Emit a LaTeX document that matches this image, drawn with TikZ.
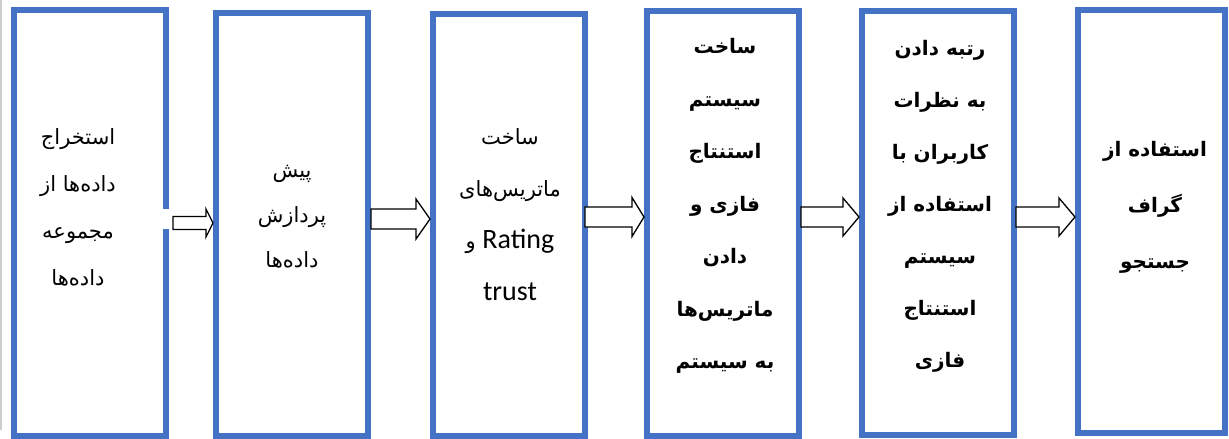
\documentclass[tikz,border=0pt]{standalone}
\usepackage{fontspec}
\usetikzlibrary{calc}
\TeXXeTstate=1
\newfontfamily\fa[Script=Arabic]{DejaVu Sans}
\newfontfamily\lat{Carlito}
\definecolor{boxblue}{HTML}{4472C4}
\tikzset{
  stage/.style={draw=boxblue, line width=6pt, fill=none, inner sep=0pt},
  stagetext/.style={align=center, inner sep=0pt, text=black},
  barrow/.style={draw=black, fill=white, line width=1.3pt, line join=miter},
}
% from, to, centre y, shaft half, head half, head length, tail gap
\newcommand\blockarr[7]{%
  \draw[barrow] let \p1=(#1.east), \p2=(#2.west), \p3=(0,#3) in
  (\x1+#7pt,\y3+#4pt) -- (\x2-#6pt,\y3+#4pt) -- (\x2-#6pt,\y3+#5pt) -- (\x2,\y3)
  -- (\x2-#6pt,\y3-#5pt) -- (\x2-#6pt,\y3-#4pt) -- (\x1+#7pt,\y3-#4pt) -- cycle;}
\newcommand\RL[1]{\beginR #1\endR}
\begin{document}
\begin{tikzpicture}[x=1pt,y=-1pt]
\useasboundingbox (0,0) rectangle (1229,439);
\fill[white] (0,0) rectangle (1229,439);
\fill[black!20] (0,0) rectangle (2,430);
% boxes
\node[stage, minimum width=152pt, minimum height=426pt] (b1) at (90,223) {};
\node[stage, minimum width=152pt, minimum height=423pt] (b2) at (292,224.5) {};
\node[stage, minimum width=152pt, minimum height=422pt] (b3) at (509,225) {};
\node[stage, minimum width=152pt, minimum height=425pt] (b4) at (723,223.5) {};
\node[stage, minimum width=152pt, minimum height=424pt] (b5) at (938,223) {};
\node[stage, minimum width=147pt, minimum height=423pt] (b6) at (1151.5,221.5) {};
% gap in the first box's border
\fill[white] (162,209) rectangle (172,229);
% arrows
\blockarr{b1}{b2}{223}{6.5}{14}{7}{4}
\blockarr{b2}{b3}{219}{10}{20}{14}{0}
\blockarr{b3}{b4}{217}{10}{19.5}{12}{-3}
\blockarr{b4}{b5}{217}{10}{19}{16}{-1}
\blockarr{b5}{b6}{217}{10}{19}{16}{-1}
% texts
\node[stagetext, font=\fa\fontsize{21}{47}\selectfont] (t1) at (78,207)
  {\RL{استخراج}\\ \RL{داده^^^^200cها از}\\ \RL{مجموعه}\\ \RL{داده^^^^200cها}};
\node[stagetext, font=\fa\fontsize{21}{45}\selectfont] (t2) at (292,217)
  {\RL{پیش}\\ \RL{پردازش}\\ \RL{داده^^^^200cها}};
\node[stagetext, font=\fa\fontsize{21}{52}\selectfont] (t3) at (510,215)
  {\RL{ساخت}\\ \RL{ماتریس^^^^200cهای}\\ \RL{\beginL{\lat\fontsize{28}{52}\selectfont Rating}\endL{} و}\\ {\lat\fontsize{28}{52}\selectfont trust}};
\node[stagetext, font=\fa\bfseries\fontsize{20}{52.5}\selectfont] (t4) at (725,206)
  {\RL{ساخت}\\ \RL{سیستم}\\ \RL{استنتاج}\\ \RL{فازی و}\\ \RL{دادن}\\ \RL{ماتریس^^^^200cها}\\ \RL{به سیستم}};
\node[stagetext, font=\fa\bfseries\fontsize{20}{52}\selectfont] (t5) at (940,206)
  {\RL{رتبه دادن}\\ \RL{به نظرات}\\ \RL{کاربران با}\\ \RL{استفاده از}\\ \RL{سیستم}\\ \RL{استنتاج}\\ \RL{فازی}};
\node[stagetext, font=\fa\bfseries\fontsize{20}{56}\selectfont] (t6) at (1155,207)
  {\RL{استفاده از}\\ \RL{گراف}\\ \RL{جستجو}};
\end{tikzpicture}
\end{document}
